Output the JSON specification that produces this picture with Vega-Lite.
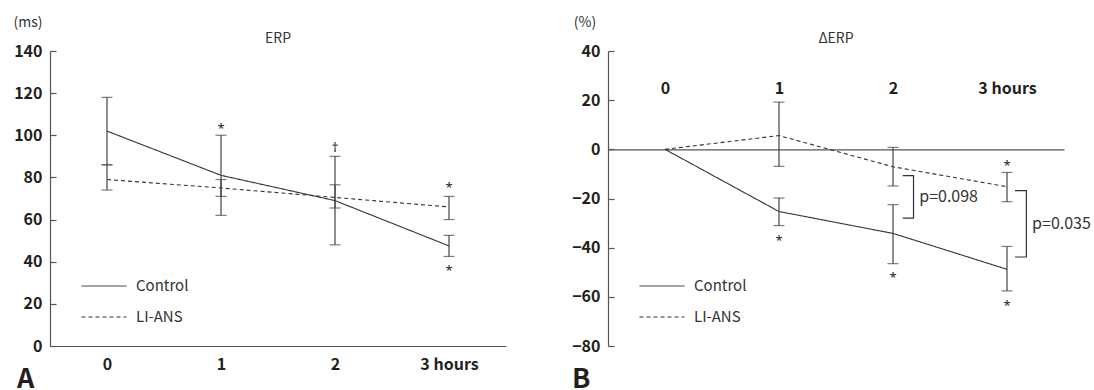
{
  "$schema": "https://vega.github.io/schema/vega-lite/v6.json",
  "padding": {"left": 13, "top": 15, "right": 0, "bottom": 0},
  "bounds": "flush",
  "spacing": 102,
  "config": {
    "view": {"stroke": null},
    "font": "Noto Sans CJK KR",
    "axis": {"grid": false, "domainColor": "#555", "tickColor": "#555", "domainWidth": 1.2, "tickWidth": 1.2, "labelColor": "#231f20", "labelFontWeight": "bold", "labelFontSize": 16, "labelFont": "Noto Sans CJK KR", "titleFont": "Noto Sans CJK KR", "titleFontWeight": "normal", "titleFontSize": 14, "titleColor": "#333"},
    "axisX": {"ticks": false, "labelPadding": 10, "labelAngle": 0, "format": "d"},
    "axisY": {"tickSize": -6, "labelPadding": 14, "titleAngle": 0, "titleAlign": "center", "titleBaseline": "middle", "titleY": -28.5},
    "title": {"fontSize": 14, "fontWeight": "normal", "color": "#333", "anchor": "middle", "frame": "group", "offset": 10, "dy": 40, "baseline": "alphabetic", "font": "Noto Sans CJK KR"},
    "legend": {"orient": "none", "legendX": 31, "legendY": 212, "symbolType": "stroke", "symbolSize": 2025, "symbolStrokeWidth": 1, "symbolStrokeColor": "#333", "labelFontSize": 15, "labelColor": "#333", "labelOffset": 9, "rowPadding": -19, "labelFont": "Noto Sans CJK KR"}
  },
  "datasets": {
    "erpA": [
      {"time": 0, "group": "Control", "v": 102, "lo": 86, "hi": 118},
      {"time": 1, "group": "Control", "v": 81, "lo": 62, "hi": 100},
      {"time": 2, "group": "Control", "v": 69, "lo": 48, "hi": 90},
      {"time": 3, "group": "Control", "v": 47.5, "lo": 42.5, "hi": 52.5},
      {"time": 0, "group": "LI-ANS", "v": 79, "lo": 74, "hi": 86},
      {"time": 1, "group": "LI-ANS", "v": 75, "lo": 71, "hi": 79},
      {"time": 2, "group": "LI-ANS", "v": 70.5, "lo": 65.5, "hi": 76.5},
      {"time": 3, "group": "LI-ANS", "v": 66, "lo": 60, "hi": 71}
    ],
    "erpB": [
      {"time": 0, "group": "Control", "v": 0, "lo": null, "hi": null},
      {"time": 1, "group": "Control", "v": -25.3, "lo": -31, "hi": -19.8},
      {"time": 2, "group": "Control", "v": -34.2, "lo": -46.5, "hi": -22.5},
      {"time": 3, "group": "Control", "v": -48.8, "lo": -57.6, "hi": -39.5},
      {"time": 0, "group": "LI-ANS", "v": 0, "lo": null, "hi": null},
      {"time": 1, "group": "LI-ANS", "v": 5.6, "lo": -6.9, "hi": 19.2},
      {"time": 2, "group": "LI-ANS", "v": -7.1, "lo": -14.9, "hi": 0.8},
      {"time": 3, "group": "LI-ANS", "v": -15.2, "lo": -21.3, "hi": -9.4}
    ],
    "annA": [
      {"time": 1, "val": 104.9, "label": "*"},
      {"time": 2, "val": 95.9, "label": "†"},
      {"time": 3, "val": 76.9, "label": "*"},
      {"time": 3, "val": 37.5, "label": "*"}
    ],
    "annB": [
      {"time": 1, "val": -35.6, "label": "*"},
      {"time": 2, "val": -50.8, "label": "*"},
      {"time": 3, "val": -5.3, "label": "*"},
      {"time": 3, "val": -62, "label": "*"}
    ],
    "pvals": [
      {"time": 2.23, "val": -19.2, "label": "p=0.098"},
      {"time": 3.22, "val": -30.4, "label": "p=0.035"}
    ],
    "brackets": [
      {"b": "b1", "o": 1, "time": 2.085, "val": -10.7},
      {"b": "b1", "o": 2, "time": 2.18, "val": -10.7},
      {"b": "b1", "o": 3, "time": 2.18, "val": -28},
      {"b": "b1", "o": 4, "time": 2.085, "val": -28},
      {"b": "b2", "o": 1, "time": 3.07, "val": -16.8},
      {"b": "b2", "o": 2, "time": 3.17, "val": -16.8},
      {"b": "b2", "o": 3, "time": 3.17, "val": -43.8},
      {"b": "b2", "o": 4, "time": 3.07, "val": -43.8}
    ]
  },
  "hconcat": [
    {
      "width": 456,
      "height": 295,
      "title": {"text": "ERP"},
      "layer": [
        {
          "data": {"name": "erpA"},
          "mark": {"type": "line", "color": "#333", "strokeWidth": 1.1},
          "encoding": {
            "x": {"field": "time", "type": "quantitative", "title": null, "scale": {"domain": [-0.5, 3.5], "nice": false}, "axis": {"values": [0, 1, 2, 3], "labelExpr": "datum.value == 3 ? '3 hours' : datum.label"}},
            "y": {"field": "v", "type": "quantitative", "title": "(ms)", "scale": {"domain": [0, 140], "nice": false}, "axis": {"values": [0, 20, 40, 60, 80, 100, 120, 140], "titleX": -22.5}},
            "strokeDash": {"field": "group", "type": "nominal", "scale": {"domain": ["Control", "LI-ANS"], "range": [[1, 0], [4, 3]]}, "legend": {"title": null}}
          }
        },
        {
          "data": {"name": "erpA"},
          "mark": {"type": "errorbar", "ticks": {"size": 11, "color": "#444", "thickness": 1.2}, "rule": {"color": "#444", "strokeWidth": 1.2}},
          "encoding": {
            "x": {"field": "time", "type": "quantitative", "title": null},
            "y": {"field": "lo", "type": "quantitative", "title": "(ms)"},
            "y2": {"field": "hi"}
          }
        },
        {
          "data": {"name": "annA"},
          "mark": {"type": "text", "fontSize": 13, "font": "Noto Sans", "fill": "#222", "baseline": "middle", "dy": 4},
          "encoding": {
            "x": {"field": "time", "type": "quantitative", "title": null},
            "y": {"field": "val", "type": "quantitative", "title": "(ms)"},
            "text": {"field": "label"}
          }
        },
        {
          "data": {"values": [{"label": "A"}]},
          "mark": {"type": "text", "fontSize": 27, "fontWeight": "bold", "fill": "#231f20", "align": "left", "baseline": "alphabetic", "dx": -33, "dy": 42},
          "encoding": {
            "x": {"datum": -0.5},
            "y": {"datum": 0},
            "text": {"field": "label"}
          }
        }
      ]
    },
    {
      "width": 456,
      "height": 295,
      "title": {"text": "ΔERP"},
      "layer": [
        {
          "data": {"name": "erpB"},
          "mark": {"type": "line", "color": "#333", "strokeWidth": 1.1},
          "encoding": {
            "x": {"field": "time", "type": "quantitative", "title": null, "scale": {"domain": [-0.5, 3.5], "nice": false}, "axis": {"orient": "top", "offset": -98.33, "values": [0, 1, 2, 3], "labelPadding": 53, "labelExpr": "datum.value == 3 ? '3 hours' : datum.label"}},
            "y": {"field": "v", "type": "quantitative", "title": "(%)", "scale": {"domain": [-80, 40], "nice": false}, "axis": {"values": [-80, -60, -40, -20, 0, 20, 40], "titleX": -23.5}},
            "strokeDash": {"field": "group", "type": "nominal", "scale": {"domain": ["Control", "LI-ANS"], "range": [[1, 0], [4, 3]]}, "legend": {"title": null}}
          }
        },
        {
          "data": {"name": "erpB"},
          "transform": [{"filter": "datum.lo != null"}],
          "mark": {"type": "errorbar", "ticks": {"size": 11, "color": "#444", "thickness": 1.2}, "rule": {"color": "#444", "strokeWidth": 1.2}},
          "encoding": {
            "x": {"field": "time", "type": "quantitative", "title": null},
            "y": {"field": "lo", "type": "quantitative", "title": "(%)"},
            "y2": {"field": "hi"}
          }
        },
        {
          "data": {"name": "brackets"},
          "mark": {"type": "line", "color": "#333", "strokeWidth": 1.2},
          "encoding": {
            "x": {"field": "time", "type": "quantitative", "title": null},
            "y": {"field": "val", "type": "quantitative", "title": "(%)"},
            "detail": {"field": "b"},
            "order": {"field": "o"}
          }
        },
        {
          "data": {"name": "annB"},
          "mark": {"type": "text", "fontSize": 13, "font": "Noto Sans", "fill": "#222", "baseline": "middle", "dy": 4},
          "encoding": {
            "x": {"field": "time", "type": "quantitative", "title": null},
            "y": {"field": "val", "type": "quantitative", "title": "(%)"},
            "text": {"field": "label"}
          }
        },
        {
          "data": {"name": "pvals"},
          "mark": {"type": "text", "fontSize": 16, "fill": "#333", "align": "left", "baseline": "middle"},
          "encoding": {
            "x": {"field": "time", "type": "quantitative", "title": null},
            "y": {"field": "val", "type": "quantitative", "title": "(%)"},
            "text": {"field": "label"}
          }
        },
        {
          "data": {"values": [{"label": "B"}]},
          "mark": {"type": "text", "fontSize": 27, "fontWeight": "bold", "fill": "#231f20", "align": "left", "baseline": "alphabetic", "dx": -36, "dy": 42},
          "encoding": {
            "x": {"datum": -0.5},
            "y": {"datum": -80},
            "text": {"field": "label"}
          }
        }
      ]
    }
  ],
  "resolve": {"scale": {"x": "independent", "y": "independent", "strokeDash": "independent"}}
}
